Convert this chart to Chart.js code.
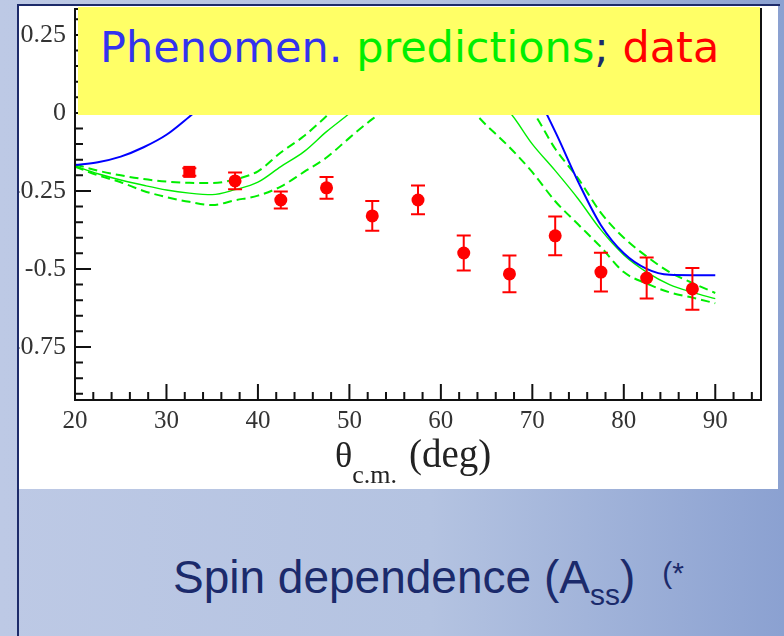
<!DOCTYPE html>
<html>
<head>
<meta charset="utf-8">
<script src="https://cdn.jsdelivr.net/npm/chart.js@4.4.0/dist/chart.umd.min.js"></script>
<style>
  html, body { margin: 0; padding: 0; }
  body {
    width: 784px; height: 636px; overflow: hidden; position: relative;
    background: linear-gradient(to right, #bdc9e5 0%, #b4c3e1 55%, #8ba1d1 100%);
  }
  #edge { position: absolute; left: 17px; top: 4px; width: 2px; height: 632px; background: #1d2b6a; }
  #topline { position: absolute; left: 17px; top: 4px; width: 763px; height: 2px; background: #1d2b6a; }
  #panel { position: absolute; left: 19px; top: 6px; width: 759px; height: 483px; background: #fff; overflow: hidden; }
  #wrap { position: absolute; left: -19px; top: -6px; width: 784px; height: 495px; }
  #banner {
    position: absolute; left: 59px; top: 1px; width: 682px; height: 108px; background: #ffff66;
  }
  #banner span.t {
    position: absolute; left: 22px; top: 19px; white-space: nowrap;
    font-family: "DejaVu Sans", sans-serif; font-size: 43px; line-height: 43px;
  }
  #xtitle {
    position: absolute; left: 316px; top: 430px; white-space: nowrap;
    font-family: "Liberation Serif", serif; font-size: 36px; line-height: 36px; color: #222;
  }
  #xtitle sub { font-size: 26px; vertical-align: -16px; margin-right: 12px; }
  #xtitle .deg { font-size: 39px; }
  #caption {
    position: absolute; left: 173px; top: 548px; white-space: nowrap;
    font-family: "Liberation Sans", Arial, sans-serif; font-size: 46px; line-height: 50px; color: #1b2a6b;
  }
  #caption sub { font-size: 30px; vertical-align: -12px; }
  #caption sup { font-size: 30px; vertical-align: 10px; margin-left: 27px; }
</style>
</head>
<body>
<div id="edge"></div>
<div id="topline"></div>
<div id="panel">
  <div id="wrap"><canvas id="chart" width="784" height="495"></canvas></div>
  <div id="banner"><span class="t"><span style="color:#3333ee">Phenomen.</span> <span style="color:#00ee00">predictions</span><span style="color:#1b2a6b">;</span> <span style="color:#ff0000">data</span></span></div>
  <div id="xtitle">θ<sub>c.m.</sub><span class="deg">(deg)</span></div>
</div>
<div id="caption">Spin dependence (A<sub>ss</sub>)<sup>(*</sup></div>

<script>
// curve grid (deg)
const theta = [20, 22.5, 25, 27.5, 30, 32.5, 35, 37.5, 40, 42.5, 45, 47.5, 50, 52.5, 55,
               57.5, 60, 62.5, 65, 67.5, 70, 72.5, 75, 77.5, 80, 82.5, 85, 87.5, 90];
// phenomenological curve (blue)
const bluePhen = [-0.167, -0.158, -0.140, -0.110, -0.070, -0.012, 0.05, 0.12, 0.19, 0.25, 0.30, 0.33, 0.345, 0.345,
                  0.33, 0.30, 0.27, 0.24, 0.20, 0.15, 0.08, -0.06, -0.22, -0.36, -0.45, -0.50, -0.519, -0.52, -0.52];
// predictions (green): central and band
const greenPred = [-0.170, -0.195, -0.215, -0.232, -0.247, -0.257, -0.262, -0.246, -0.222, -0.172, -0.125, -0.060, -0.002, 0.06,
                   0.11, 0.13, 0.13, 0.11, 0.06, 0.003, -0.10, -0.185, -0.275, -0.375, -0.455, -0.51, -0.55, -0.575, -0.595];
const greenUpper = [-0.165, -0.185, -0.200, -0.212, -0.220, -0.224, -0.225, -0.213, -0.187, -0.127, -0.075, -0.010, 0.06, 0.12,
                    0.17, 0.20, 0.20, 0.18, 0.13, 0.07, 0.005, -0.115, -0.21, -0.32, -0.40, -0.46, -0.51, -0.545, -0.577];
const greenLower = [-0.172, -0.200, -0.222, -0.250, -0.270, -0.285, -0.295, -0.280, -0.265, -0.236, -0.190, -0.143, -0.080, -0.020,
                    0.03, 0.05, 0.05, 0.03, -0.04, -0.11, -0.19, -0.283, -0.357, -0.43, -0.51, -0.547, -0.575, -0.592, -0.61];
// measured A_ss
const dataTheta = [32.5, 37.5, 42.5, 47.5, 52.5, 57.5, 62.5, 67.5, 72.5, 77.5, 82.5, 87.5];
const dataAss = [-0.189, -0.218, -0.279, -0.240, -0.330, -0.279, -0.449, -0.516, -0.394, -0.510, -0.529, -0.564];
const dataErr = [0.012, 0.027, 0.027, 0.035, 0.048, 0.046, 0.056, 0.059, 0.062, 0.062, 0.066, 0.067];
// axes
const xTicks = [20, 30, 40, 50, 60, 70, 80, 90];
const yTicks = [-0.75, -0.5, -0.25, 0, 0.25];

function pts(xs, ys) {
    return xs.map((x, i) => ({ x: x, y: ys[i] }));
}

function curve(values, color, width, dash) {
    return {
        data: pts(theta, values),
        borderColor: color,
        borderWidth: width,
        borderDash: dash || [],
        pointRadius: 0,
        fill: false,
        cubicInterpolationMode: 'monotone'
    };
}

// error bars on the data points
const errorBars = {
    id: 'errorBars',
    afterDatasetsDraw(chart) {
        const ctx = chart.ctx;
        const y = chart.scales.y;
        const meta = chart.getDatasetMeta(0);
        ctx.save();
        ctx.strokeStyle = '#ff0000';
        ctx.lineWidth = 2;
        meta.data.forEach((pt, i) => {
            const top = y.getPixelForValue(dataAss[i] + dataErr[i]);
            const bot = y.getPixelForValue(dataAss[i] - dataErr[i]);
            ctx.beginPath();
            ctx.moveTo(pt.x, top); ctx.lineTo(pt.x, bot);
            ctx.moveTo(pt.x - 7, top); ctx.lineTo(pt.x + 7, top);
            ctx.moveTo(pt.x - 7, bot); ctx.lineTo(pt.x + 7, bot);
            ctx.stroke();
        });
        ctx.restore();
    }
};

// inward ticks and frame, ROOT style
const frameTicks = {
    id: 'frameTicks',
    afterDraw(chart) {
        const ctx = chart.ctx;
        const a = chart.chartArea;
        const xs = chart.scales.x, ys = chart.scales.y;
        ctx.save();
        ctx.strokeStyle = '#111';
        ctx.lineWidth = 2;
        ctx.beginPath();
        ctx.rect(a.left, a.top, a.right - a.left, a.bottom - a.top);
        for (let v = 20; v <= 94.001; v += 2) {
            const px = xs.getPixelForValue(v);
            const len = (Math.round(v) % 10 === 0) ? 16 : 8;
            ctx.moveTo(px, a.bottom); ctx.lineTo(px, a.bottom - len);
        }
        for (let k = -18; k <= 6; k++) {
            const v = k * 0.05;
            const py = ys.getPixelForValue(v);
            const len = (k % 5 === 0) ? 16 : 8;
            ctx.moveTo(a.left, py); ctx.lineTo(a.left + len, py);
        }
        ctx.stroke();
        ctx.restore();
    }
};

const ctx = document.getElementById('chart').getContext('2d');
new Chart(ctx, {
    type: 'line',
    data: {
        datasets: [
            {
                data: pts(dataTheta, dataAss),
                showLine: false,
                pointStyle: c => c.dataIndex === 0 ? 'rect' : 'circle',
                pointRadius: c => c.dataIndex === 0 ? 8.5 : 6.5,
                backgroundColor: '#ff0000',
                borderColor: '#ff0000',
                borderWidth: 0
            },
            curve(bluePhen, '#0000ff', 2),
            curve(greenPred, '#00ee00', 1.4),
            curve(greenUpper, '#00ee00', 2, [9, 5]),
            curve(greenLower, '#00ee00', 2, [9, 5])
        ]
    },
    options: {
        responsive: false,
        animation: false,
        events: [],
        layout: { padding: { left: 15, right: 23, top: 9, bottom: 55 } },
        plugins: { legend: { display: false }, tooltip: { enabled: false } },
        scales: {
            x: {
                type: 'linear',
                min: 20,
                max: 95,
                afterBuildTicks: s => { s.ticks = xTicks.map(v => ({ value: v })); },
                afterFit: s => { s.height = 40; s.paddingLeft = 0; s.paddingRight = 0; },
                grid: { display: false, drawTicks: false },
                border: { display: false },
                ticks: {
                    font: { family: 'Liberation Serif', size: 25 },
                    color: '#333',
                    padding: 6,
                    maxRotation: 0,
                    autoSkip: false
                }
            },
            y: {
                type: 'linear',
                min: -0.92,
                max: 0.333,
                afterBuildTicks: s => { s.ticks = yTicks.map(v => ({ value: v })); },
                afterFit: s => { s.width = 60; s.paddingTop = 0; s.paddingBottom = 0; },
                grid: { display: false, drawTicks: false },
                border: { display: false },
                ticks: {
                    font: { family: 'Liberation Serif', size: 26 },
                    color: '#333',
                    padding: 9,
                    callback: v => String(v)
                }
            }
        }
    },
    plugins: [errorBars, frameTicks]
});
</script>
</body>
</html>
